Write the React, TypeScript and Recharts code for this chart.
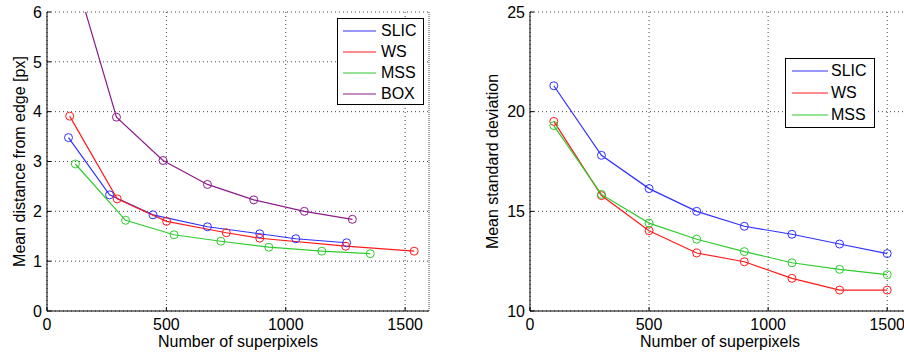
import React from 'react';
import { LineChart, Line, XAxis, YAxis, CartesianGrid, Legend, ReferenceLine } from 'recharts';

// left panel: each method has its own superpixel counts
const slicX = [90, 262, 444, 672, 891, 1042, 1255];
const slicDist = [3.48, 2.33, 1.93, 1.69, 1.55, 1.45, 1.37];
const wsX = [95, 294, 501, 751, 891, 1251, 1538];
const wsDist = [3.91, 2.25, 1.8, 1.57, 1.46, 1.3, 1.2];
const mssX = [119, 329, 532, 728, 929, 1151, 1354];
const mssDist = [2.95, 1.82, 1.53, 1.4, 1.28, 1.2, 1.15];
const boxX = [100, 291, 486, 672, 866, 1078, 1279];
const boxDist = [7.0, 3.89, 3.02, 2.54, 2.23, 2.0, 1.84];

// right panel: shared superpixel counts
const counts = [100, 300, 500, 700, 900, 1100, 1300, 1500];
const slicStd = [21.3, 17.81, 16.14, 15.0, 14.25, 13.85, 13.36, 12.88];
const wsStd = [19.51, 15.79, 14.03, 12.91, 12.47, 11.64, 11.05, 11.05];
const mssStd = [19.3, 15.85, 14.41, 13.6, 12.98, 12.42, 12.09, 11.82];

const xTicks = [0, 500, 1000, 1500];
const leftYTicks = [0, 1, 2, 3, 4, 5, 6];
const rightYTicks = [10, 15, 20, 25];
const leftMethods = ['SLIC', 'WS', 'MSS', 'BOX'];
const rightMethods = ['SLIC', 'WS', 'MSS'];

const COLORS: Record<string, string> = { SLIC: '#3030ff', WS: '#ff1a1a', MSS: '#2ecc2e', BOX: '#8b1a8b' };
const FONT = '"Liberation Sans", Arial, Helvetica, sans-serif';

const pairs = (xs: number[], ys: number[]) => xs.map((x, i) => ({ x, y: ys[i] }));
const rightData = counts.map((n, i) => ({ n, slic: slicStd[i], ws: wsStd[i], mss: mssStd[i] }));

const tickStyle = { fill: '#000', fontSize: 16, fontFamily: FONT };
const dot = (c: string) => ({ r: 4, fill: 'none', stroke: c, strokeWidth: 1 });

// MATLAB-style boxed legend, keeps plotting order
function legendBox(names: string[], style: React.CSSProperties, rowH: number, lineW: number, padL: number, gap: number) {
  return () => (
    <div
      style={{
        boxSizing: 'border-box', border: '1.5px solid #000', background: '#fff',
        paddingTop: 1, paddingLeft: padL, fontFamily: FONT, fontSize: 16, color: '#000', ...style,
      }}
    >
      {names.map((name) => (
        <div key={name} style={{ height: rowH, display: 'flex', alignItems: 'center' }}>
          <svg width={lineW} height={4} style={{ marginRight: gap }}>
            <line x1={0} y1={2} x2={lineW} y2={2} stroke={COLORS[name]} strokeWidth={1.2} />
          </svg>
          <span>{name}</span>
        </div>
      ))}
    </div>
  );
}

const axisText = (x: number, y: number, text: string, rotate = false) => () => (
  <text
    x={x}
    y={y}
    textAnchor="middle"
    transform={rotate ? `rotate(-90, ${x}, ${y})` : undefined}
    style={{ fontSize: 16, fontFamily: FONT, fill: '#000' }}
  >
    {text}
  </text>
);

export default function App() {
  return (
    <div style={{ position: 'absolute', left: 0, top: 0, width: 904, height: 354, overflow: 'hidden', background: '#fff' }}>
      {/* Left: mean distance from edge */}
      <div style={{ position: 'absolute', left: 0, top: 0 }}>
        <LineChart width={450} height={354} margin={{ top: 12, right: 21, bottom: 13, left: 6 }}>
          <CartesianGrid stroke="#444" strokeDasharray="1 3" />
          <XAxis
            type="number" dataKey="x" domain={[0, 1600]} ticks={xTicks} allowDataOverflow
            stroke="#000" tick={tickStyle} tickSize={-4} tickMargin={12} height={30}
            label={axisText(238, 347, 'Number of superpixels')}
          />
          <YAxis
            type="number" domain={[0, 6]} ticks={leftYTicks} allowDataOverflow
            stroke="#000" tick={tickStyle} tickSize={-4} tickMargin={9} width={41}
            label={axisText(25, 161.5, 'Mean distance from edge [px]', true)}
          />
          <ReferenceLine x={1600} stroke="#444" strokeDasharray="1 3" />
          <Line data={pairs(slicX, slicDist)} dataKey="y" name="SLIC" stroke={COLORS.SLIC} strokeWidth={1.2} dot={dot(COLORS.SLIC)} isAnimationActive={false} />
          <Line data={pairs(wsX, wsDist)} dataKey="y" name="WS" stroke={COLORS.WS} strokeWidth={1.2} dot={dot(COLORS.WS)} isAnimationActive={false} />
          <Line data={pairs(mssX, mssDist)} dataKey="y" name="MSS" stroke={COLORS.MSS} strokeWidth={1.2} dot={dot(COLORS.MSS)} isAnimationActive={false} />
          <Line data={pairs(boxX, boxDist)} dataKey="y" name="BOX" stroke={COLORS.BOX} strokeWidth={1.2} dot={dot(COLORS.BOX)} isAnimationActive={false} />
          <Legend
            layout="vertical" align="center" verticalAlign="middle"
            wrapperStyle={{ left: 337, top: 18, width: 87, height: 87 }}
            content={legendBox(leftMethods, { width: 87, height: 87 }, 21, 33, 5, 5)}
          />
        </LineChart>
      </div>

      {/* Right: mean standard deviation */}
      <div style={{ position: 'absolute', left: 450, top: 0 }}>
        <LineChart width={470} height={354} data={rightData} margin={{ top: 12, right: 9, bottom: 13, left: 39 }}>
          <CartesianGrid stroke="#444" strokeDasharray="1 3" />
          <XAxis
            type="number" dataKey="n" domain={[0, 1600]} ticks={xTicks}
            stroke="#000" tick={tickStyle} tickSize={-4} tickMargin={12} height={30}
            label={axisText(270, 347, 'Number of superpixels')}
          />
          <YAxis
            type="number" domain={[10, 25]} ticks={rightYTicks}
            stroke="#000" tick={tickStyle} tickSize={-4} tickMargin={9} width={41}
            label={axisText(48, 161.5, 'Mean standard deviation', true)}
          />
          <Line dataKey="slic" name="SLIC" stroke={COLORS.SLIC} strokeWidth={1.2} dot={dot(COLORS.SLIC)} isAnimationActive={false} />
          <Line dataKey="ws" name="WS" stroke={COLORS.WS} strokeWidth={1.2} dot={dot(COLORS.WS)} isAnimationActive={false} />
          <Line dataKey="mss" name="MSS" stroke={COLORS.MSS} strokeWidth={1.2} dot={dot(COLORS.MSS)} isAnimationActive={false} />
          <Legend
            layout="vertical" align="center" verticalAlign="middle"
            wrapperStyle={{ left: 335, top: 58, width: 90, height: 70 }}
            content={legendBox(rightMethods, { width: 90, height: 70 }, 22, 36, 6, 3)}
          />
        </LineChart>
      </div>
    </div>
  );
}
